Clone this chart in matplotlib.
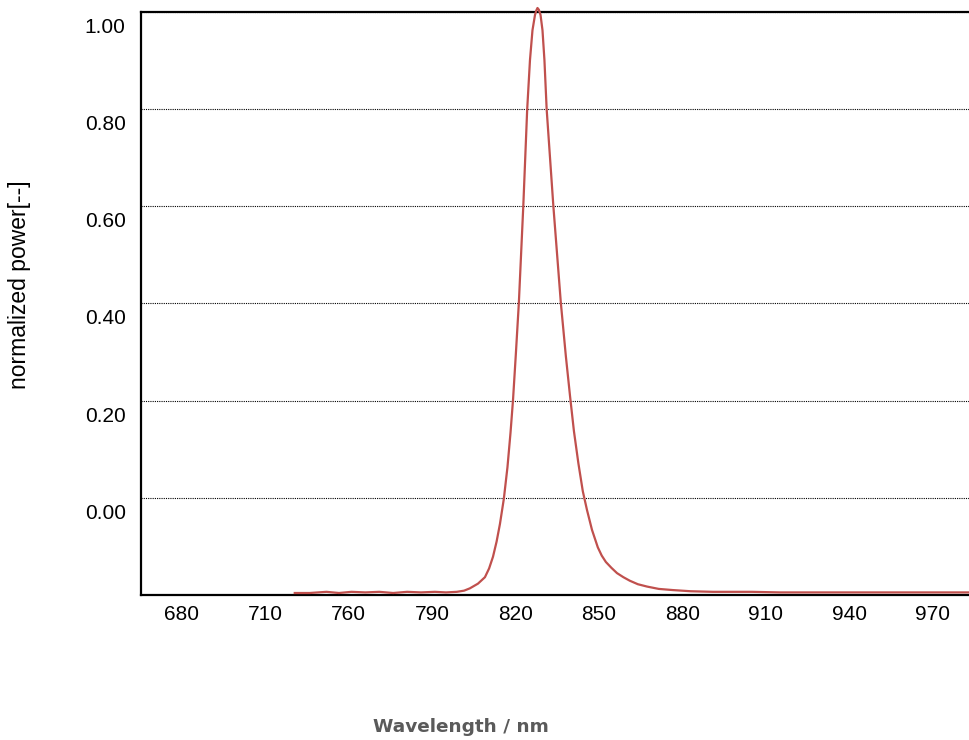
"""
Normalized emission spectrum of an ~830 nm LED.
"""

import matplotlib
matplotlib.use("Agg")
import matplotlib.pyplot as plt
from matplotlib.transforms import ScaledTranslation

# spectrum (wavelength in nm, normalized power)
wavelength = [740.6, 746.0, 752.0, 756.5, 761.0, 766.0, 771.0, 776.0, 781.0,
              786.0, 791.0, 795.0, 798.9, 801.5, 803.6, 806.5, 809.0, 810.5,
              811.9, 813.2, 814.4, 815.8, 817.1, 818.2, 819.1, 820.1, 821.2,
              822.8, 824.2, 825.2, 826.1, 827.0, 827.5, 827.9, 828.4, 829.0,
              829.7, 830.4, 831.2, 833.6, 836.3, 838.1, 839.6, 841.0, 842.6,
              844.2, 845.7, 847.5, 849.6, 851.0, 852.5, 854.5, 856.5, 858.8,
              861.1, 864.0, 867.3, 871.5, 876.6, 883.0, 891.0, 905.0, 915.1,
              950.0, 983.0]
power = [0.000, 0.000, 0.002, 0.000, 0.002, 0.001, 0.002, 0.000, 0.002,
         0.001, 0.002, 0.001, 0.002, 0.004, 0.008, 0.016, 0.027, 0.042,
         0.062, 0.088, 0.118, 0.161, 0.215, 0.274, 0.330, 0.407, 0.496,
         0.662, 0.827, 0.911, 0.962, 0.988, 0.996, 1.000, 0.997, 0.988,
         0.962, 0.911, 0.827, 0.662, 0.496, 0.405, 0.337, 0.277, 0.222,
         0.174, 0.142, 0.108, 0.078, 0.064, 0.053, 0.043, 0.034, 0.027,
         0.021, 0.015, 0.011, 0.007, 0.005, 0.003, 0.002, 0.002, 0.001,
         0.001, 0.001]

x_ticks = [700, 730, 760, 790, 820, 850, 880, 910, 940, 970]
x_tick_labels = ["680", "710", "760", "790", "820", "850", "880", "910", "940", "970"]
y_ticks = [0.0, 0.2, 0.4, 0.6, 0.8, 1.0]
y_tick_labels = ["0.00", "0.20", "0.40", "0.60", "0.80", "1.00"]

fig = plt.figure(figsize=(9.69, 7.40), dpi=100)
ax = fig.add_axes([141 / 969, 1 - 595 / 740, 1 - 141 / 969, 583 / 740])

ax.set_xlim(685.3, 983.1)
ax.set_ylim(-0.2, 1.0)

ax.set_xticks(x_ticks)
ax.set_xticklabels(x_tick_labels, family="Liberation Sans", fontsize=15)
ax.set_yticks(y_ticks)
ax.set_yticklabels(y_tick_labels, family="Liberation Sans", fontsize=15)
ax.tick_params(axis="both", length=0)
ax.tick_params(axis="x", pad=7)
ax.tick_params(axis="y", pad=11)

# labels sit below their grid lines in the original
offset = ScaledTranslation(0, -13.5 / 100, fig.dpi_scale_trans)
for lbl in ax.get_yticklabels():
    lbl.set_transform(lbl.get_transform() + offset)

ax.yaxis.grid(True, color="black", linestyle=(0, (1, 1)), linewidth=0.8)
ax.set_axisbelow(True)

for side in ["left", "top", "bottom"]:
    ax.spines[side].set_linewidth(1.6)
    ax.spines[side].set_color("black")
ax.spines["right"].set_visible(False)

# curve lives on its own power scale
ax2 = ax.twinx()
ax2.set_ylim(-0.00342, 0.99316)
ax2.axis("off")
ax2.plot(wavelength, power, color="#c0504d", linewidth=1.6, clip_on=False,
         solid_joinstyle="round")

fig.text(20 / 969, 1 - 285 / 740, "normalized power[--]", rotation=90,
         ha="center", va="center", family="Liberation Sans", fontsize=16.5)
fig.text(461 / 969, 1 - 727 / 740, "Wavelength / nm", ha="center", va="center",
         family="DejaVu Sans", fontweight="bold", fontsize=13.3, color="#5a5a5a")

fig.savefig("out.png", dpi=100)
